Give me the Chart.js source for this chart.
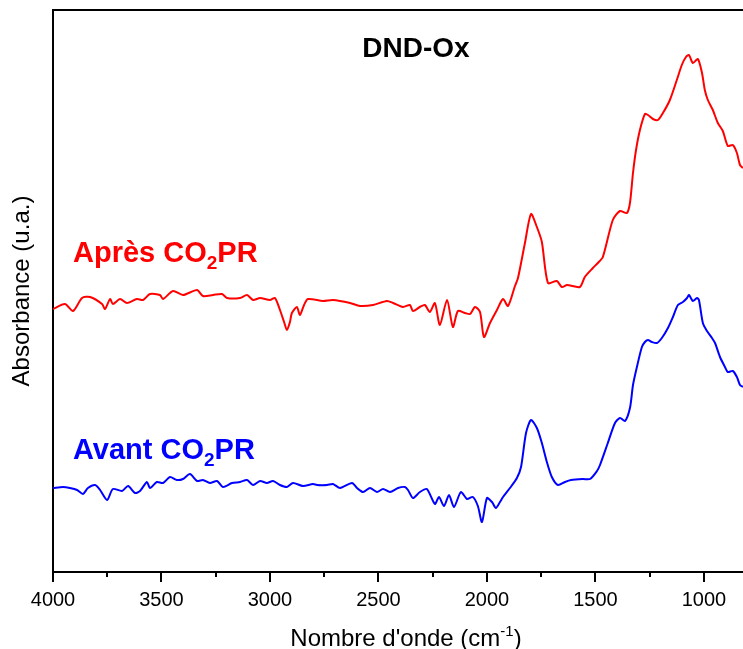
<!DOCTYPE html>
<html>
<head>
<meta charset="utf-8">
<script src="https://cdn.jsdelivr.net/npm/chart.js@4/dist/chart.umd.min.js"></script>
<style>
html,body{margin:0;padding:0;background:#fff;}
#wrap{width:743px;height:649px;position:relative;}
</style>
</head>
<body>
<div id="wrap"><canvas id="c" width="743" height="649"></canvas></div>
<script>
const chartTitle = "DND-Ox";
const xTickLabels = [4000, 3500, 3000, 2500, 2000, 1500, 1000];
const xMinorTicks = [3750, 3250, 2750, 2250, 1750, 1250];

const apresWn = [4000,3945,3908,3866,3829,3774,3760,3737,3724,3691,3659,3613,3585,3553,3507,3493,3447,3401,3336,3309,3263,3221,3198,3138,3106,3078,3046,3000,2977,2954,2935,2922,2908,2899,2876,2862,2843,2825,2756,2710,2631,2585,2525,2461,2433,2387,2355,2341,2309,2286,2263,2240,2217,2184,2157,2134,2101,2078,2055,2032,2014,1986,1954,1926,1903,1871,1857,1825,1797,1770,1747,1719,1678,1655,1631,1572,1549,1512,1489,1466,1420,1387,1355,1341,1327,1313,1295,1272,1258,1235,1212,1189,1157,1125,1102,1083,1069,1051,1028,1009,996,982,959,936,913,890,867,848,834,820];
const apresAbs = [2.63,2.68,2.61,2.74,2.75,2.68,2.63,2.73,2.68,2.73,2.69,2.73,2.72,2.78,2.77,2.73,2.81,2.77,2.82,2.76,2.77,2.78,2.74,2.74,2.77,2.72,2.74,2.72,2.74,2.62,2.50,2.42,2.50,2.59,2.65,2.57,2.67,2.73,2.71,2.72,2.69,2.66,2.67,2.71,2.69,2.65,2.67,2.61,2.65,2.67,2.60,2.69,2.47,2.72,2.45,2.61,2.59,2.58,2.65,2.60,2.35,2.49,2.62,2.73,2.66,2.86,2.94,3.29,3.58,3.45,3.30,2.89,2.91,2.85,2.87,2.85,2.95,3.04,3.09,3.15,3.52,3.61,3.59,3.69,3.99,4.22,4.42,4.58,4.57,4.53,4.52,4.59,4.72,4.92,5.07,5.15,5.17,5.09,5.13,4.99,4.82,4.72,4.62,4.49,4.41,4.26,4.27,4.19,4.07,4.04];

const avantWn = [4000,3954,3922,3889,3862,3839,3806,3783,3751,3724,3682,3654,3622,3599,3567,3553,3521,3493,3461,3429,3401,3369,3336,3309,3277,3244,3217,3175,3138,3106,3078,3046,3014,2986,2954,2922,2894,2848,2802,2783,2737,2710,2677,2622,2599,2571,2539,2507,2479,2447,2410,2378,2364,2341,2309,2277,2240,2221,2198,2175,2152,2120,2092,2065,2042,2023,2000,1977,1959,1940,1926,1894,1862,1843,1820,1797,1770,1747,1724,1701,1673,1641,1613,1558,1525,1493,1479,1443,1410,1387,1364,1341,1327,1309,1286,1272,1258,1240,1217,1194,1166,1143,1120,1097,1078,1069,1051,1032,1023,1005,986,963,949,926,903,890,867,848,834,820];
const avantAbs = [0.84,0.85,0.84,0.82,0.78,0.84,0.87,0.82,0.72,0.83,0.81,0.86,0.79,0.81,0.90,0.84,0.90,0.89,0.95,0.92,0.93,0.98,0.91,0.92,0.89,0.91,0.85,0.89,0.90,0.92,0.87,0.91,0.89,0.91,0.87,0.85,0.89,0.86,0.88,0.87,0.87,0.88,0.84,0.89,0.84,0.80,0.84,0.80,0.83,0.80,0.84,0.85,0.82,0.74,0.80,0.83,0.68,0.75,0.66,0.77,0.65,0.80,0.73,0.75,0.66,0.50,0.74,0.70,0.64,0.70,0.75,0.84,0.94,1.05,1.39,1.52,1.44,1.29,1.10,0.95,0.87,0.90,0.92,0.93,0.93,1.01,1.07,1.29,1.49,1.54,1.51,1.64,1.87,2.05,2.25,2.30,2.32,2.30,2.29,2.34,2.44,2.55,2.67,2.70,2.74,2.77,2.71,2.74,2.72,2.49,2.41,2.34,2.29,2.15,2.05,2.00,2.01,1.95,1.87,1.85];

const FONT = "'Liberation Sans', Arial, sans-serif";

function toPts(xs, ys){ return xs.map((x,i)=>({x:x, y:ys[i]})); }

const decor = {
  id: 'decor',
  afterDraw(chart){
    const ctx = chart.ctx, a = chart.chartArea, xs = chart.scales.x;
    ctx.save();
    ctx.strokeStyle = '#000';
    ctx.lineWidth = 2;
    ctx.beginPath(); ctx.moveTo(a.left-1, a.top); ctx.lineTo(a.right, a.top); ctx.stroke();
    xTickLabels.forEach(v=>{
      const p = Math.round(xs.getPixelForValue(v));
      ctx.beginPath(); ctx.moveTo(p, a.bottom); ctx.lineTo(p, a.bottom+10); ctx.stroke();
    });
    xMinorTicks.forEach(v=>{
      const p = Math.round(xs.getPixelForValue(v));
      ctx.beginPath(); ctx.moveTo(p, a.bottom); ctx.lineTo(p, a.bottom+5); ctx.stroke();
    });
    ctx.fillStyle = '#000';
    ctx.font = "bold 28px " + FONT;
    ctx.textAlign = 'center'; ctx.textBaseline = 'alphabetic';
    ctx.fillText(chartTitle, 416, 57);
    ctx.textAlign = 'left';
    const t1 = "Nombre d'onde (cm", sup = "-1", t2 = ")";
    ctx.font = "24px " + FONT; const w1 = ctx.measureText(t1).width;
    ctx.font = "15px " + FONT; const ws = ctx.measureText(sup).width;
    ctx.font = "24px " + FONT; const w2 = ctx.measureText(t2).width;
    let x0 = 406 - (w1+ws+w2)/2; const by = 646;
    ctx.fillText(t1, x0, by);
    ctx.font = "15px " + FONT; ctx.fillText(sup, x0+w1, by-10);
    ctx.font = "24px " + FONT; ctx.fillText(t2, x0+w1+ws, by);
    function lab(color, pre, y){
      ctx.fillStyle = color;
      ctx.font = "bold 29px " + FONT;
      let x = 73;
      ctx.fillText(pre + "CO", x, y); x += ctx.measureText(pre + "CO").width;
      ctx.font = "bold 19px " + FONT;
      ctx.fillText("2", x, y+7); x += ctx.measureText("2").width;
      ctx.font = "bold 29px " + FONT;
      ctx.fillText("PR", x, y);
    }
    lab('#ff0000', "Après ", 262);
    lab('#0000ff', "Avant ", 459);
    ctx.restore();
  }
};

new Chart(document.getElementById('c'), {
  type: 'line',
  data: {
    datasets: [
      {label:'Après CO2PR', data: toPts(apresWn, apresAbs), borderColor:'#ff0000', borderWidth:2, pointRadius:0, tension:0.25, fill:false},
      {label:'Avant CO2PR', data: toPts(avantWn, avantAbs), borderColor:'#0000ff', borderWidth:2, pointRadius:0, tension:0.25, fill:false}
    ]
  },
  options: {
    responsive:false, animation:false,
    layout:{padding:{top:10, right:0, left:0, bottom:0}},
    plugins:{legend:{display:false}, tooltip:{enabled:false}, title:{display:false}},
    scales:{
      x:{
        type:'linear', reverse:true, min:820, max:4000,
        afterBuildTicks(s){ s.ticks = xTickLabels.map(v=>({value:v})); },
        afterFit(s){ s.height = 77; },
        grid:{display:true, drawOnChartArea:false, drawTicks:true, tickLength:10, color:'rgba(0,0,0,0)'},
        border:{display:true, color:'#000', width:2},
        ticks:{color:'#000', font:{family:FONT, size:20}, padding:6, maxRotation:0, autoSkip:false, callback:(v)=>String(v)},
        title:{display:false}
      },
      y:{
        min:0, max:5.62,
        afterFit(s){ s.width = 53; },
        grid:{display:false},
        border:{display:true, color:'#000', width:2},
        ticks:{display:false},
        title:{display:true, text:'Absorbance (u.a.)', color:'#000', font:{family:FONT, size:24, weight:'normal'}, padding:{top:8,bottom:0}}
      }
    }
  },
  plugins:[decor]
});
</script>
</body>
</html>
